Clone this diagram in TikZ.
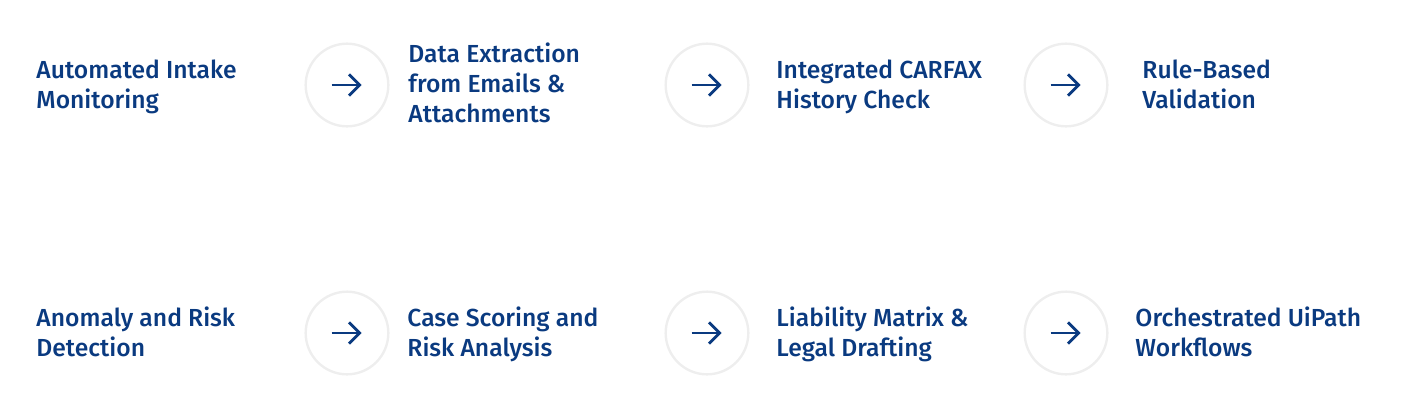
\documentclass[tikz,border=0pt]{standalone}
\usepackage{fontspec}
\setmainfont{Fira Sans Medium}
\usetikzlibrary{arrows.meta, positioning}

\begin{document}
\begin{tikzpicture}[x=0.75pt,y=-0.75pt,>={Straight Barb[length=8pt,width=16pt,line width=2.2pt]},line width=2.2pt]

	\tikzset{ring st/.style={circle, draw=gray!13!white, line width=1.8pt,
			minimum size=62pt, inner sep=0pt},
		label st/.style={anchor=base west, align=left, inner sep=0pt,
			text=navy, font=\fontsize{18.5}{22.5}\selectfont}}
	\definecolor{navy}{HTML}{0A3A80}

	\useasboundingbox (0,0) rectangle (1416,419);

	% first row
	\node[ring st] (R1) at (347,85) {};
	\node[ring st] (R2) at (707,85) {};
	\node[ring st] (R3) at (1066,85) {};
	\node[label st] (L1) at (35,108.5) {Automated Intake\\Monitoring};
	\node[label st] (L2) at (407,122.5) {Data Extraction\\from Emails \&\\Attachments};
	\node[label st] (L3) at (775,108.5) {Integrated CARFAX\\History Check};
	\node[label st] (L4) at (1141,108.5) {Rule-Based\\Validation};

	% second row
	\node[ring st] (R5) at (347,333) {};
	\node[ring st] (R6) at (707,333) {};
	\node[ring st] (R7) at (1066,333) {};
	\node[label st] (L5) at (35,356.5) {Anomaly and Risk\\Detection};
	\node[label st] (L6) at (406,356.5) {Case Scoring and\\Risk Analysis};
	\node[label st] (L7) at (775,356.5) {Liability Matrix \&\\Legal Drafting};
	\node[label st] (L8) at (1134,356.5) {Orchestrated UiPath\\Workflows};

	\foreach \r in {R1,R2,R3,R5,R6,R7}
	\draw[->, draw=navy] ([xshift=-11.5pt]\r.center) -- ([xshift=11pt]\r.center);

\end{tikzpicture}
\end{document}
